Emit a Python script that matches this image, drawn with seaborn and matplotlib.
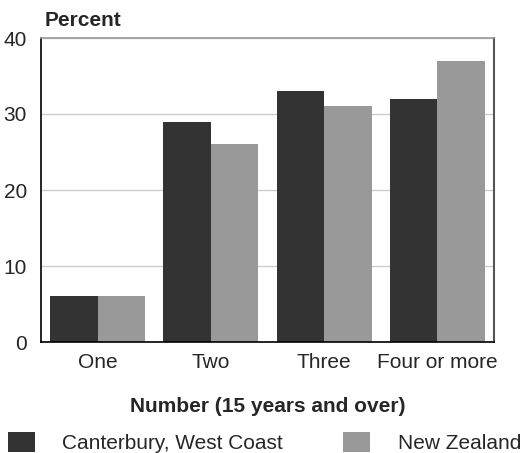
import matplotlib
matplotlib.use("Agg")
import matplotlib.pyplot as plt
import seaborn as sns
import pandas as pd
from matplotlib.patches import Patch

categories = ["One", "Two", "Three", "Four or more"]
canterbury = [6, 29, 33, 32]
new_zealand = [6, 26, 31, 37]
series_names = ["Canterbury, West Coast", "New Zealand"]
colors = ["#333333", "#999999"]

df = pd.DataFrame({
    "cat": categories * 2,
    "val": canterbury + new_zealand,
    "series": [series_names[0]] * 4 + [series_names[1]] * 4,
})

sns.set_style("white")
plt.rcParams["font.family"] = ["Liberation Sans", "DejaVu Sans"]

fig = plt.figure(figsize=(5.25, 4.53), dpi=100)
ax = fig.add_axes([41/525, 1 - 342/453, (494-41)/525, (342-38)/453])

sns.barplot(data=df, x="cat", y="val", hue="series", palette=colors,
            width=0.84, gap=0, saturation=1, ax=ax, legend=False, linewidth=0)

ax.set_ylim(0, 40)
ax.set_yticks([0, 10, 20, 30, 40])
ax.set_xlim(-0.5, 3.5)
ax.yaxis.grid(True, color="#cccccc", linewidth=1)
ax.set_axisbelow(True)
ax.tick_params(axis="both", length=0, labelsize=15)
ax.tick_params(axis="y", pad=10)
ax.tick_params(axis="x", pad=8)
ax.set_xlabel("Number (15 years and over)", fontsize=15, fontweight="bold", labelpad=18)
ax.set_ylabel("")

for s in ["left", "bottom"]:
    ax.spines[s].set_color("#000000")
    ax.spines[s].set_linewidth(1.2)
ax.spines["top"].set_color("#999999")
ax.spines["top"].set_linewidth(1.2)
ax.spines["right"].set_color("#555555")
ax.spines["right"].set_linewidth(1.5)

fig.text(45/525, 1 - 20/453, "Percent", fontsize=15, fontweight="bold",
         ha="left", va="center")

handles = [Patch(facecolor=c, edgecolor="none") for c in colors]
fig.legend(handles, series_names, loc="lower left", bbox_to_anchor=(8/525, 0.0),
           ncol=2, frameon=False, fontsize=15, handlelength=1.3, handleheight=1.1,
           handletextpad=1.3, columnspacing=2.9, borderpad=0, borderaxespad=0)

fig.savefig("out.png", dpi=100)
